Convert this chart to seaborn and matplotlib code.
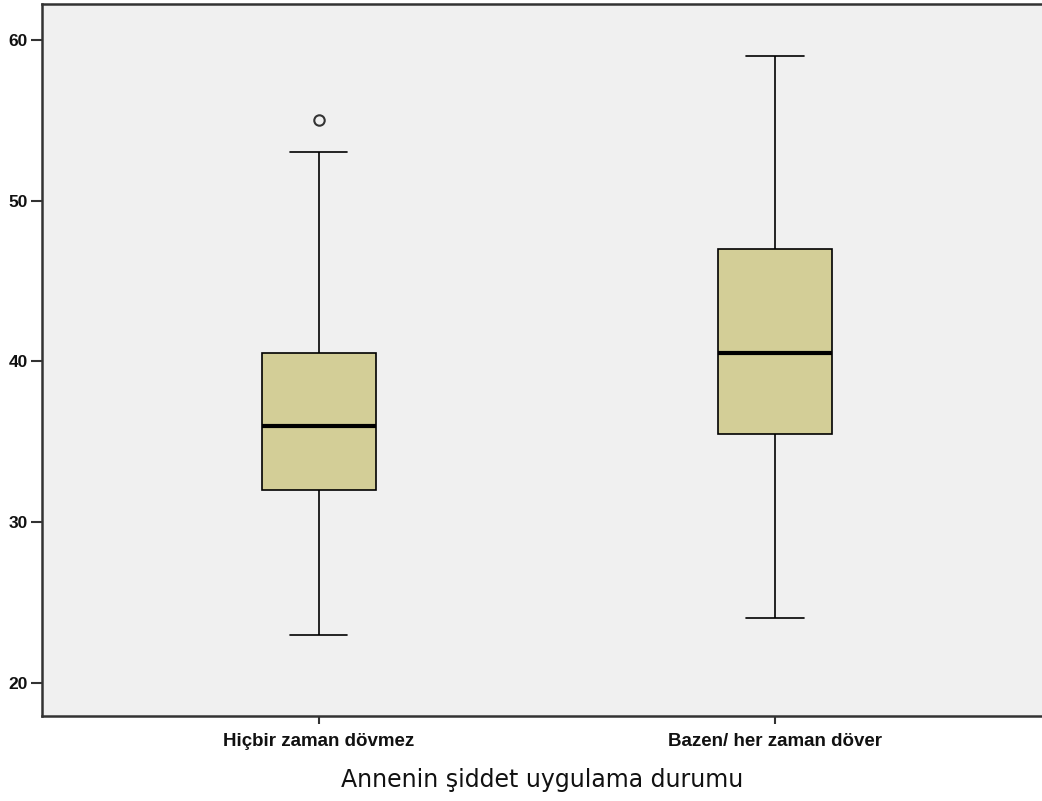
import matplotlib
matplotlib.use("Agg")
import matplotlib.pyplot as plt
import seaborn as sns
import pandas as pd

# Data (values chosen to reproduce the box summaries)
categories = ["Hiçbir zaman dövmez", "Bazen/ her zaman döver"]
group1_values = [23, 28, 32, 34, 36, 38, 40.5, 53, 55]
group2_values = [24, 30, 35.5, 38, 40.5, 44, 47, 52, 59]
y_ticks = [20, 30, 40, 50, 60]
x_label = "Annenin şiddet uygulama durumu"

df = pd.DataFrame({
    "grup": [categories[0]] * len(group1_values) + [categories[1]] * len(group2_values),
    "deger": group1_values + group2_values,
})

sns.set_theme(style="white")
plt.rcParams["font.family"] = ["Liberation Sans", "DejaVu Sans"]

fig = plt.figure(figsize=(10.42, 8.01), dpi=100)
ax = fig.add_axes([42 / 1042, 85 / 801, 1 - 42 / 1042, 712 / 801])
ax.set_facecolor("#F0F0F0")

sns.boxplot(
    data=df, x="grup", y="deger", order=categories, ax=ax,
    color="#D3CE97", saturation=1, width=0.25,
    linecolor="black", linewidth=1.2,
    medianprops={"linewidth": 3, "color": "black"},
    flierprops={"marker": "o", "markerfacecolor": "none",
                "markeredgecolor": "#333333", "markersize": 7.5,
                "markeredgewidth": 1.5},
)

ax.set_xlim(-0.606, 1.585)
ax.set_ylim(17.93, 62.24)
ax.set_yticks(y_ticks)
ax.set_yticklabels([str(t) for t in y_ticks])

for s in ["left", "bottom", "top"]:
    ax.spines[s].set_visible(True)
    ax.spines[s].set_color("#333333")
    ax.spines[s].set_linewidth(1.8)
ax.spines["right"].set_visible(False)

ax.tick_params(axis="y", which="major", left=True, length=8, width=1.5,
               color="#333333", pad=2, labelsize=12.5)
ax.tick_params(axis="x", which="major", bottom=True, length=6, width=1.5,
               color="#333333", pad=6, labelsize=13.5)
for lab in ax.get_yticklabels() + ax.get_xticklabels():
    lab.set_fontweight("bold")
    lab.set_color("#111111")

ax.set_ylabel("")
ax.set_xlabel(x_label, fontsize=17, family=["DejaVu Sans"], labelpad=13, color="#111111")

fig.savefig("out.png", dpi=100)
